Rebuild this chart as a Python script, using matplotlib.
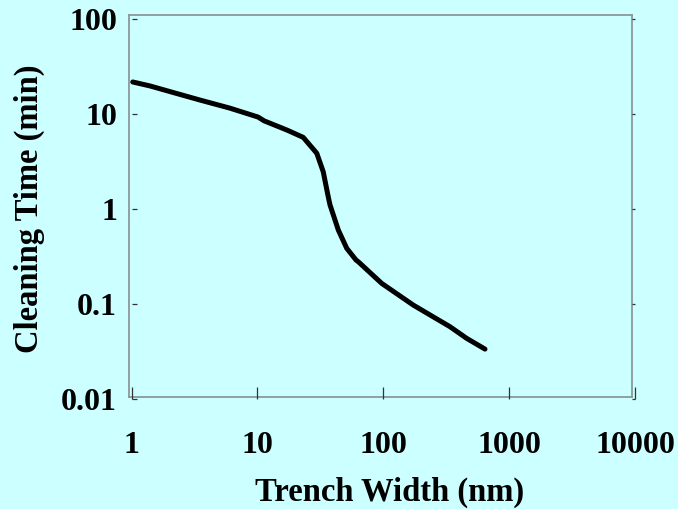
import matplotlib
matplotlib.use("Agg")
import matplotlib.pyplot as plt
from matplotlib.ticker import FixedLocator, FixedFormatter, NullLocator

BG = "#ccffff"
BOX = "#8c9898"

# trench width (nm) vs cleaning time (min)
width_nm = [1.02, 1.40, 2.21, 3.49, 6.04, 10.1, 11.3, 17.1, 23.1, 29.6, 33.3,
            36.5, 37.7, 43.9, 51.2, 60.7, 63.3, 97.1, 173, 339, 460, 643]
time_min = [21.7, 19.7, 16.6, 14.0, 11.5, 9.27, 8.45, 6.77, 5.66, 3.85, 2.46,
            1.34, 1.10, 0.598, 0.384, 0.289, 0.277, 0.164, 0.0969, 0.0573,
            0.0432, 0.0333]

x_ticks = [1, 10, 100, 1000, 10000]
x_labels = ["1", "10", "100", "1000", "10000"]
y_ticks = [0.01, 0.1, 1, 10, 100]
y_labels = ["0.01", "0.1", "1", "10", "100"]

plt.rcParams["font.family"] = ["Liberation Serif", "DejaVu Serif"]
plt.rcParams["font.weight"] = "bold"

fig = plt.figure(figsize=(6.78, 5.09), dpi=100)
fig.patch.set_facecolor(BG)

# the plot frame sits a couple of pixels off the tick axes, as in the original
box = fig.add_axes([0.1907, 0.2206, 0.7410, 0.7493])
box.set_facecolor(BG)
box.set_xticks([]); box.set_yticks([])
for s in box.spines.values():
    s.set_color(BOX)
    s.set_linewidth(1.3)

ax = fig.add_axes([0.1942, 0.2167, 0.7423, 0.7460])
ax.patch.set_visible(False)
for s in ax.spines.values():
    s.set_visible(False)
ax.set_xscale("log"); ax.set_yscale("log")
ax.set_xlim(1, 10000); ax.set_ylim(0.01, 100)

ax.plot(width_nm, time_min, color="black", lw=3.6, solid_capstyle="round",
        solid_joinstyle="round", clip_on=False)

ax.xaxis.set_major_locator(FixedLocator(x_ticks))
ax.xaxis.set_major_formatter(FixedFormatter(x_labels))
ax.xaxis.set_minor_locator(NullLocator())
ax.yaxis.set_major_locator(FixedLocator(y_ticks))
ax.yaxis.set_major_formatter(FixedFormatter(y_labels))
ax.yaxis.set_minor_locator(NullLocator())

ax.tick_params(axis="x", direction="in", length=9, width=0.9, color="#333333",
               pad=23.5, labelsize=23)
ax.tick_params(axis="y", direction="in", length=3.6, width=0.9, color="#333333",
               pad=10.5, labelsize=23, right=True)
for t in ax.yaxis.get_major_ticks():
    t.tick2line.set_markersize(2.4)

ax.set_xlabel("Trench Width (nm)", fontsize=23.5, fontweight="bold")
ax.set_ylabel("Cleaning Time (min)", fontsize=23.5, fontweight="bold", labelpad=12)
ax.xaxis.set_label_coords(0.513, -0.206)

fig.savefig("out.png", dpi=100, facecolor=BG)
